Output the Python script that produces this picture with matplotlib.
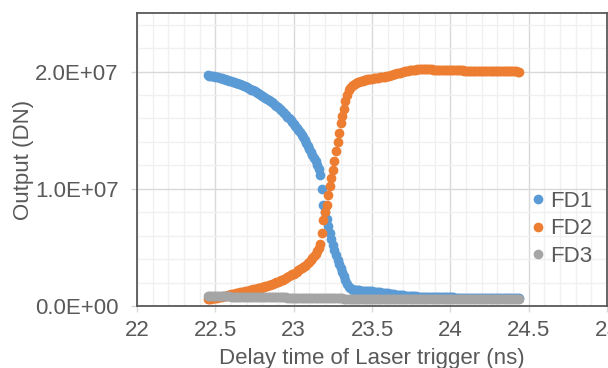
import matplotlib.pyplot as plt
from matplotlib.ticker import MultipleLocator, FuncFormatter

# delay time (ns), one point every 10 ps
delay_ns = [
    22.45, 22.46, 22.47, 22.48, 22.49, 22.50, 22.51, 22.52, 22.53, 22.54,
    22.55, 22.56, 22.57, 22.58, 22.59, 22.60, 22.61, 22.62, 22.63, 22.64,
    22.65, 22.66, 22.67, 22.68, 22.69, 22.70, 22.71, 22.72, 22.73, 22.74,
    22.75, 22.76, 22.77, 22.78, 22.79, 22.80, 22.81, 22.82, 22.83, 22.84,
    22.85, 22.86, 22.87, 22.88, 22.89, 22.90, 22.91, 22.92, 22.93, 22.94,
    22.95, 22.96, 22.97, 22.98, 22.99, 23.00, 23.01, 23.02, 23.03, 23.04,
    23.05, 23.06, 23.07, 23.08, 23.09, 23.10, 23.11, 23.12, 23.13, 23.14,
    23.15, 23.16, 23.17, 23.18, 23.19, 23.20, 23.21, 23.22, 23.23, 23.24,
    23.25, 23.26, 23.27, 23.28, 23.29, 23.30, 23.31, 23.32, 23.33, 23.34,
    23.35, 23.36, 23.37, 23.38, 23.39, 23.40, 23.41, 23.42, 23.43, 23.44,
    23.45, 23.46, 23.47, 23.48, 23.49, 23.50, 23.51, 23.52, 23.53, 23.54,
    23.55, 23.56, 23.57, 23.58, 23.59, 23.60, 23.61, 23.62, 23.63, 23.64,
    23.65, 23.66, 23.67, 23.68, 23.69, 23.70, 23.71, 23.72, 23.73, 23.74,
    23.75, 23.76, 23.77, 23.78, 23.79, 23.80, 23.81, 23.82, 23.83, 23.84,
    23.85, 23.86, 23.87, 23.88, 23.89, 23.90, 23.91, 23.92, 23.93, 23.94,
    23.95, 23.96, 23.97, 23.98, 23.99, 24.00, 24.01, 24.02, 24.03, 24.04,
    24.05, 24.06, 24.07, 24.08, 24.09, 24.10, 24.11, 24.12, 24.13, 24.14,
    24.15, 24.16, 24.17, 24.18, 24.19, 24.20, 24.21, 24.22, 24.23, 24.24,
    24.25, 24.26, 24.27, 24.28, 24.29, 24.30, 24.31, 24.32, 24.33, 24.34,
    24.35, 24.36, 24.37, 24.38, 24.39, 24.40, 24.41, 24.42, 24.43, 24.44,
]

# outputs in units of 1e6 DN
fd1 = [
    19.68, 19.66, 19.64, 19.62, 19.60, 19.57, 19.54, 19.51, 19.47, 19.43,
    19.39, 19.35, 19.30, 19.26, 19.22, 19.18, 19.14, 19.10, 19.05, 19.00,
    18.95, 18.90, 18.85, 18.79, 18.73, 18.67, 18.60, 18.54, 18.47, 18.40,
    18.33, 18.26, 18.18, 18.10, 18.02, 17.94, 17.86, 17.78, 17.69, 17.60,
    17.50, 17.40, 17.29, 17.18, 17.07, 16.95, 16.83, 16.70, 16.57, 16.43,
    16.29, 16.15, 16.00, 15.85, 15.70, 15.54, 15.38, 15.21, 15.04, 14.83,
    14.61, 14.39, 14.16, 13.92, 13.68, 13.43, 13.17, 12.91, 12.64, 12.36,
    12.05, 11.70, 11.20, 9.95, 8.60, 8.05, 7.40, 6.80, 6.25, 5.72,
    5.22, 4.75, 4.32, 3.92, 3.55, 3.20, 2.86, 2.52, 2.20, 1.90,
    1.65, 1.50, 1.44, 1.40, 1.37, 1.35, 1.34, 1.33, 1.32, 1.31,
    1.30, 1.29, 1.28, 1.27, 1.26, 1.25, 1.23, 1.22, 1.20, 1.19,
    1.17, 1.15, 1.14, 1.12, 1.10, 1.08, 1.06, 1.04, 1.02, 1.00,
    0.98, 0.96, 0.95, 0.93, 0.92, 0.90, 0.89, 0.88, 0.87, 0.86,
    0.85, 0.84, 0.83, 0.82, 0.81, 0.80, 0.80, 0.79, 0.79, 0.78,
    0.78, 0.77, 0.77, 0.76, 0.76, 0.76, 0.75, 0.75, 0.75, 0.74,
    0.74, 0.74, 0.74, 0.73, 0.73, 0.73, 0.73, 0.73, 0.72, 0.72,
    0.72, 0.72, 0.72, 0.72, 0.72, 0.72, 0.72, 0.72, 0.72, 0.72,
    0.72, 0.71, 0.71, 0.71, 0.71, 0.71, 0.71, 0.71, 0.71, 0.71,
    0.71, 0.71, 0.71, 0.71, 0.71, 0.70, 0.70, 0.70, 0.70, 0.70,
    0.70, 0.70, 0.70, 0.70, 0.70, 0.70, 0.70, 0.70, 0.70, 0.70,
]

fd2 = [
    0.58, 0.60, 0.62, 0.64, 0.66, 0.68, 0.70, 0.73, 0.76, 0.79,
    0.82, 0.85, 0.88, 0.92, 0.96, 0.99, 1.02, 1.05, 1.08, 1.11,
    1.14, 1.17, 1.20, 1.23, 1.26, 1.29, 1.32, 1.35, 1.38, 1.41,
    1.44, 1.47, 1.50, 1.53, 1.57, 1.61, 1.65, 1.69, 1.73, 1.77,
    1.81, 1.86, 1.91, 1.96, 2.01, 2.07, 2.13, 2.19, 2.25, 2.32,
    2.39, 2.46, 2.53, 2.61, 2.69, 2.77, 2.85, 2.94, 3.03, 3.12,
    3.21, 3.31, 3.42, 3.53, 3.65, 3.78, 3.92, 4.07, 4.24, 4.44,
    4.66, 4.92, 5.30, 6.20, 7.35, 8.06, 8.63, 9.49, 10.20, 10.90,
    11.60, 12.40, 13.20, 14.00, 14.80, 15.60, 16.20, 16.80, 17.50, 18.00,
    18.40, 18.60, 18.75, 18.87, 18.96, 19.03, 19.09, 19.14, 19.19, 19.23,
    19.27, 19.30, 19.33, 19.36, 19.38, 19.41, 19.43, 19.45, 19.47, 19.49,
    19.51, 19.53, 19.55, 19.57, 19.60, 19.63, 19.66, 19.69, 19.72, 19.76,
    19.80, 19.84, 19.88, 19.92, 19.96, 19.99, 20.02, 20.05, 20.08, 20.10,
    20.12, 20.14, 20.16, 20.17, 20.18, 20.19, 20.20, 20.20, 20.20, 20.20,
    20.19, 20.19, 20.18, 20.18, 20.17, 20.17, 20.16, 20.16, 20.15, 20.15,
    20.14, 20.14, 20.13, 20.13, 20.12, 20.12, 20.12, 20.11, 20.11, 20.11,
    20.10, 20.10, 20.10, 20.10, 20.09, 20.09, 20.09, 20.09, 20.08, 20.08,
    20.08, 20.08, 20.07, 20.07, 20.07, 20.07, 20.06, 20.06, 20.06, 20.06,
    20.05, 20.05, 20.05, 20.05, 20.04, 20.04, 20.04, 20.04, 20.03, 20.03,
    20.03, 20.03, 20.02, 20.02, 20.02, 20.02, 20.01, 20.01, 20.00, 20.00,
]

fd3 = [
    0.85, 0.85, 0.85, 0.84, 0.84, 0.84, 0.84, 0.83, 0.83, 0.83,
    0.83, 0.82, 0.82, 0.82, 0.82, 0.81, 0.81, 0.81, 0.81, 0.80,
    0.80, 0.80, 0.80, 0.79, 0.79, 0.79, 0.79, 0.78, 0.78, 0.78,
    0.78, 0.77, 0.77, 0.77, 0.77, 0.76, 0.76, 0.76, 0.76, 0.75,
    0.75, 0.75, 0.75, 0.74, 0.74, 0.74, 0.74, 0.73, 0.73, 0.73,
    0.73, 0.72, 0.72, 0.72, 0.72, 0.71, 0.71, 0.71, 0.71, 0.70,
    0.70, 0.70, 0.70, 0.69, 0.69, 0.69, 0.69, 0.68, 0.68, 0.68,
    0.68, 0.67, 0.67, 0.67, 0.67, 0.66, 0.66, 0.66, 0.66, 0.65,
    0.65, 0.65, 0.65, 0.64, 0.64, 0.64, 0.64, 0.63, 0.63, 0.63,
    0.63, 0.63, 0.62, 0.62, 0.62, 0.62, 0.62, 0.62, 0.61, 0.61,
    0.61, 0.61, 0.61, 0.61, 0.61, 0.61, 0.61, 0.61, 0.61, 0.61,
    0.61, 0.61, 0.61, 0.61, 0.61, 0.61, 0.61, 0.61, 0.61, 0.61,
    0.61, 0.61, 0.61, 0.61, 0.61, 0.61, 0.61, 0.61, 0.61, 0.61,
    0.61, 0.61, 0.61, 0.61, 0.61, 0.61, 0.61, 0.61, 0.61, 0.61,
    0.61, 0.61, 0.61, 0.61, 0.61, 0.61, 0.61, 0.61, 0.61, 0.61,
    0.60, 0.60, 0.60, 0.60, 0.60, 0.60, 0.60, 0.60, 0.60, 0.60,
    0.60, 0.60, 0.60, 0.60, 0.60, 0.60, 0.60, 0.60, 0.60, 0.60,
    0.60, 0.60, 0.60, 0.60, 0.60, 0.60, 0.60, 0.60, 0.60, 0.60,
    0.60, 0.60, 0.60, 0.60, 0.60, 0.60, 0.60, 0.60, 0.60, 0.60,
    0.60, 0.60, 0.60, 0.60, 0.60, 0.60, 0.60, 0.60, 0.60, 0.60,
]

scale = 1e6
series = [('FD1', fd1, '#5b9bd5'), ('FD2', fd2, '#ed7d31'), ('FD3', fd3, '#a5a5a5')]
txt = '#595959'

plt.rcParams['font.family'] = ['Liberation Sans', 'DejaVu Sans']

fig = plt.figure(figsize=(6.08, 3.68), dpi=100)
ax = fig.add_axes([137/608, 1 - 306/368, 470/608, 293/368])

for name, vals, col in series:
    ax.plot(delay_ns, [v*scale for v in vals], 'o', ms=7, mew=0, color=col, label=name)

ax.set_xlim(22, 25)
ax.set_ylim(0, 2.5e7)
ax.xaxis.set_major_locator(MultipleLocator(0.5))
ax.xaxis.set_minor_locator(MultipleLocator(0.1))
ax.yaxis.set_major_locator(MultipleLocator(1e7))
ax.yaxis.set_minor_locator(MultipleLocator(2e6))
ax.xaxis.set_major_formatter(FuncFormatter(lambda v, p: f'{v:g}'))
ax.yaxis.set_major_formatter(FuncFormatter(lambda v, p: f'{v:.1E}'))

ax.grid(which='major', color='#d9d9d9', lw=1)
ax.grid(which='minor', color='#f0f0f0', lw=1)
ax.set_axisbelow(True)
for s in ax.spines.values():
    s.set_color('#595959')
    s.set_linewidth(1.3)

ax.tick_params(which='major', length=4.3, width=1, color='#d9d9d9',
               labelsize=16, labelcolor=txt)
ax.tick_params(axis='x', pad=6)
ax.tick_params(axis='y', pad=9)
ax.tick_params(which='minor', length=0)

ax.set_xlabel('Delay time of Laser trigger (ns)', fontsize=16, color=txt, labelpad=5)
ax.set_ylabel('Output (DN)', fontsize=16, color=txt, labelpad=1)

ax.legend(loc='center left', bbox_to_anchor=(0.842, 0.263), frameon=False,
          fontsize=16, labelcolor=txt, handlelength=0.5, handletextpad=0.3,
          labelspacing=0.3, borderpad=0, borderaxespad=0, markerscale=1.0)

fig.savefig('out.png', dpi=100)
